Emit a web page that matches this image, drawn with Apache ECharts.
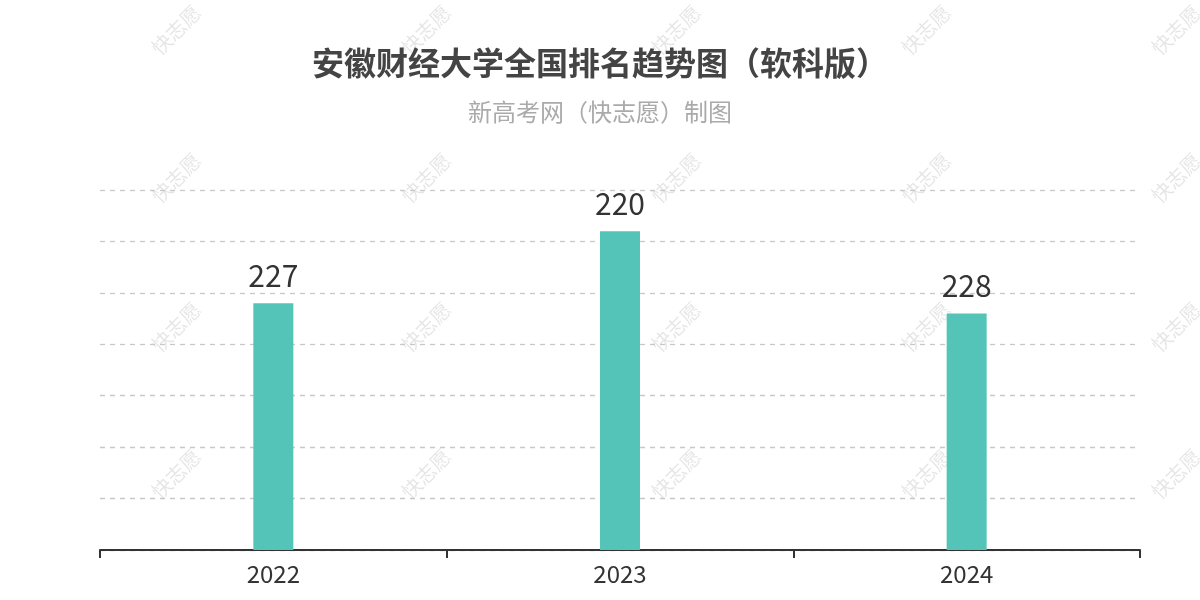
<!DOCTYPE html>
<html>
<head>
<meta charset="utf-8">
<script src="https://cdn.jsdelivr.net/npm/echarts@6/dist/echarts.min.js"></script>
<style>html,body{margin:0;padding:0;background:#fff}#c{width:1200px;height:600px}</style>
</head>
<body>
<div id="c"></div>
<script>
const years = ['2022', '2023', '2024'];
const ranks = [227, 220, 228];
// bar heights on the hidden axis (taller = better rank)
const barHeights = [24, 31, 23];

const wmX = [176, 426, 676, 926, 1176];
const wmY = [30, 178, 327, 474];
const graphics = [];
wmX.forEach(x => wmY.forEach(y => {
  graphics.push({
    type: 'text', x: x, y: y, rotation: Math.PI / 4, z: 0, silent: true,
    style: { text: '快志愿', fill: 'rgba(0,0,0,0.1)', font: '20px "Noto Sans CJK SC"', textAlign: 'center', textVerticalAlign: 'middle' }
  });
}));

const chart = echarts.init(document.getElementById('c'), null, { renderer: 'canvas' });
chart.setOption({
  backgroundColor: '#fff',
  title: {
    text: '安徽财经大学全国排名趋势图（软科版）',
    subtext: '新高考网（快志愿）制图',
    left: 'center', top: 42, itemGap: 21,
    textStyle: { fontSize: 32, fontWeight: 'bold', color: '#444', fontFamily: 'Noto Sans CJK SC' },
    subtextStyle: { fontSize: 24, color: '#aaa', fontFamily: 'Noto Sans CJK SC' }
  },
  grid: { left: 100, right: 60, top: 190, bottom: 50 },
  xAxis: {
    type: 'category', data: years,
    axisLine: { lineStyle: { color: '#333', width: 2 } },
    axisTick: { show: true, lineStyle: { color: '#333', width: 2 }, length: 8 },
    axisLabel: { fontSize: 24, color: '#333', margin: 12, fontFamily: 'Noto Sans CJK SC' }
  },
  yAxis: {
    type: 'value', min: 0, max: 35, interval: 5,
    axisLabel: { show: false }, axisLine: { show: false }, axisTick: { show: false },
    splitLine: { lineStyle: { type: [5, 5], color: '#c8c8c8', width: 1.3 } }
  },
  series: [{
    type: 'bar', barWidth: 40, z: 5,
    data: barHeights,
    itemStyle: { color: '#55c4b8' },
    label: {
      show: true, position: 'top', distance: 13,
      fontSize: 30, color: '#333', fontFamily: 'Noto Sans CJK SC',
      formatter: p => ranks[p.dataIndex]
    }
  }],
  graphic: graphics
});
</script>
</body>
</html>
